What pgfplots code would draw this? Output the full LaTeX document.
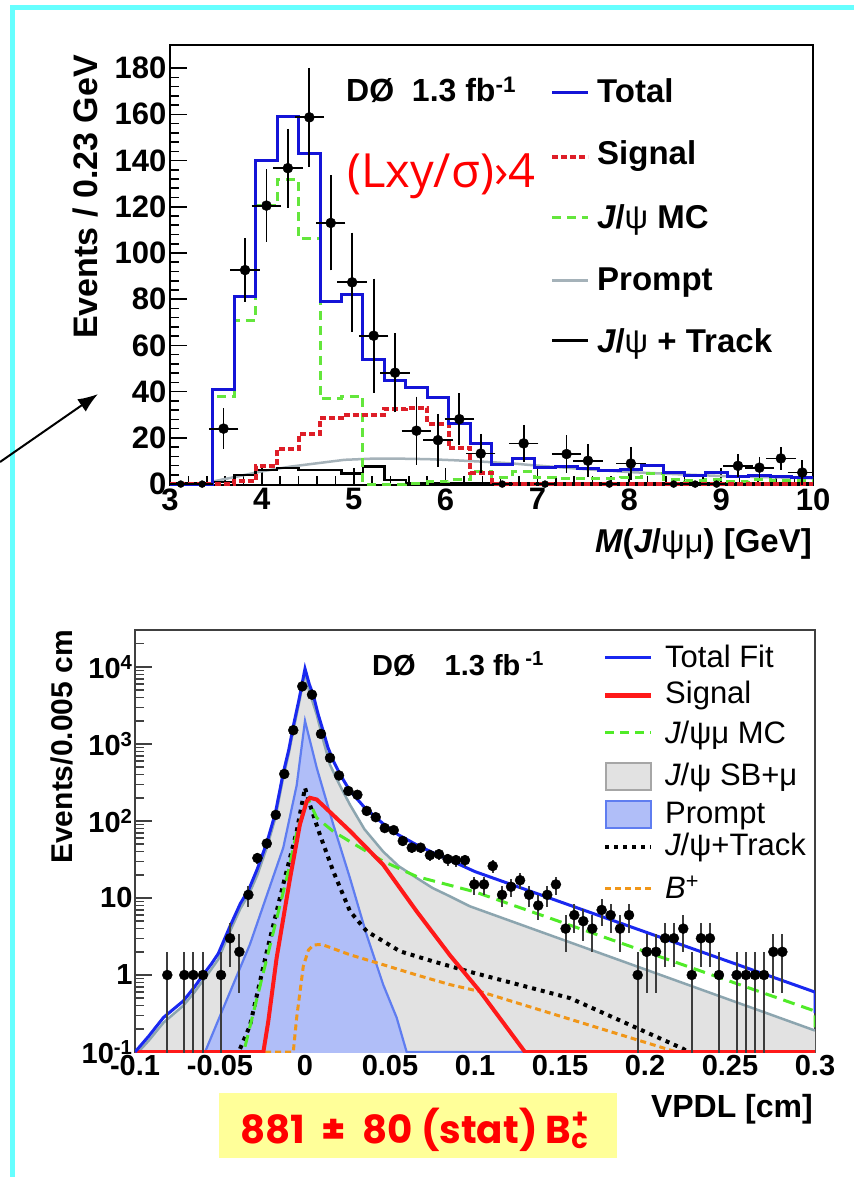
\documentclass[border=0pt]{standalone}
\usepackage{pgfplots}
\pgfplotsset{compat=1.18}
\usepackage{fontspec}
\setmainfont{Liberation Sans}
\newfontfamily\rounda{Open Sans}
\newfontfamily\roundb{Poppins}
\usetikzlibrary{arrows.meta}
\definecolor{cyanb}{RGB}{102,255,255}
\definecolor{tblue}{RGB}{20,20,215}
\definecolor{tred}{RGB}{222,30,40}
\definecolor{tgreen}{RGB}{100,230,60}
\definecolor{tgrey}{RGB}{165,178,185}
\definecolor{bblue}{RGB}{25,40,240}
\definecolor{bred}{RGB}{255,25,25}
\definecolor{bgreen}{RGB}{80,235,40}
\definecolor{sbfill}{RGB}{226,226,226}
\definecolor{sbline}{RGB}{140,165,175}
\definecolor{prfill}{RGB}{176,190,248}
\definecolor{prline}{RGB}{95,125,240}
\definecolor{borange}{RGB}{240,150,25}
\definecolor{ybox}{RGB}{255,255,153}
\definecolor{errgrey}{RGB}{60,60,60}
\newcommand{\fs}[1]{\fontsize{#1}{#1}\selectfont}
\begin{document}
\begin{tikzpicture}[x=1pt,y=-1pt]
\useasboundingbox (0,0) rectangle (854,1177);
\fill[white] (0,0) rectangle (854,1177);
\fill[cyanb] (10,5) rectangle (854,10);
\fill[cyanb] (10,5) rectangle (15,1177);

% ---------------- top axis ----------------
\begin{axis}[
  at={(170pt,-485pt)}, anchor=south west,
  scale only axis, width=643pt, height=440pt,
  xmin=3, xmax=10, ymin=-0.4, ymax=190,
  axis line style={line width=2pt},
  xtick={3,4,...,10}, ytick={0,20,...,180},
  minor x tick num=4, minor y tick num=4,
  tick align=inside, xtick pos=left, ytick pos=left,
  major tick length=17pt, minor tick length=9pt,
  tick style={line width=1.6pt, black},
  tick label style={font=\bfseries\fs{31}},
  /pgf/number format/assume math mode=true,
]
\addplot[tgrey, line width=2.5pt] coordinates {(3.45,1) (3.7,3) (4.0,5.5) (4.3,7.5) (4.6,9) (4.9,10.5) (5.2,11) (5.5,11) (5.8,10.8) (6.1,10.3) (6.4,9.7) (6.7,9) (7.0,8) (7.5,6.5) (8.0,5.2) (8.5,4.3) (9.0,3.5) (9.5,3) (10,2.5)};
\addplot[black, line width=2.5pt, const plot] coordinates {(3.000,0.3) (3.233,0.3) (3.467,1) (3.700,3.9) (3.933,6) (4.167,7) (4.400,6) (4.633,6) (4.867,4.6) (5.100,7.5) (5.333,1.7) (5.567,0.5) (10,0.5)};
\addplot[tgreen, line width=3pt, dash pattern=on 9pt off 6pt, const plot] coordinates {(3.000,0) (3.233,0) (3.467,38) (3.700,71) (3.933,120.5) (4.167,131.6) (4.400,106.3) (4.633,37) (4.867,38) (5.100,0) (5.333,0) (5.567,0.3) (5.800,1) (6.033,2) (6.267,5.5) (6.500,3) (6.733,5.5) (6.967,3) (7.200,2.5) (7.433,2.5) (7.667,2.5) (7.900,3) (8.133,4.5) (8.367,2) (8.600,1.5) (8.833,2) (9.067,1) (9.300,2) (9.533,1.5) (9.767,1.5) (10.000,1.5)};
\addplot[tred, line width=4pt, dash pattern=on 6pt off 3pt, const plot] coordinates {(3.000,0) (3.233,0) (3.467,0) (3.700,1.5) (3.933,8) (4.167,15) (4.400,21.5) (4.633,28.5) (4.867,30) (5.100,30) (5.333,32.5) (5.567,33) (5.800,26) (6.033,15.5) (6.267,5) (6.500,0) (10,0)};
\addplot[tblue, line width=3pt, const plot] coordinates {(3.000,0) (3.233,0) (3.467,41) (3.700,81) (3.933,140) (4.167,159) (4.400,143) (4.633,79) (4.867,82) (5.100,54) (5.333,44.7) (5.567,42) (5.800,37.5) (6.033,26) (6.267,17.5) (6.500,8.5) (6.733,11) (6.967,7.2) (7.200,7.5) (7.433,6.8) (7.667,5.8) (7.900,6.3) (8.133,8.1) (8.367,4.9) (8.600,3.9) (8.833,4.9) (9.067,3.2) (9.300,3.6) (9.533,3.2) (9.767,2.9) (10.000,2.9)};
\addplot[only marks, mark=*, mark size=5pt, black,
  error bars/.cd, x dir=both, x fixed=0.1167, y dir=both, y explicit,
  error bar style={line width=1.8pt}, error mark options={line width=1.8pt, mark size=4pt}]
 coordinates {(3.583,24) +- (0,7) (3.817,92.6) +- (0,12) (4.05,120.5) +- (0,14) (4.283,136.7) +- (0,15.3) (4.517,158.7) +- (0,19.7) (4.75,113) +- (0,18.8) (4.983,87.3) +- (0,19.8) (5.217,64.2) +- (0,23) (5.45,48.2) +- (0,15.4) (5.683,23.1) +- (0,13) (5.917,19) +- (0,9.7) (6.15,28.1) +- (0,9.5) (6.383,13.2) +- (0,6.8) (6.85,17.6) +- (0,6.3) (7.317,13) +- (0,6.3) (7.55,10.1) +- (0,5.4) (8.017,8.9) +- (0,5.5) (9.183,7.9) +- (0,3.2) (9.417,7.1) +- (0,2.9) (9.65,11.1) +- (0,3.2) (9.883,5) +- (0,3.6)};
\addplot[only marks, mark=*, mark size=3.5pt, black,
  error bars/.cd, x dir=both, x fixed=0.1167, error bar style={line width=1.5pt}, error mark=none]
 coordinates {(3.117,0) (3.35,0) (6.617,0) (7.083,0) (7.783,0) (8.483,0) (8.717,0) (8.95,0)};
\end{axis}

% top legend and texts
\node[anchor=base west, inner sep=0, font=\bfseries\fs{32}] at (346,102) {DØ\ \ 1.3 fb\textsuperscript{-1}};
\node[anchor=base west, inner sep=0, text=red] at (347,188) {\resizebox{188pt}{!}{\rounda (Lxy/σ)›4}};
\draw[tblue, line width=3pt] (552,93) -- (588,93);
\draw[tred, line width=4pt, dash pattern=on 6pt off 3pt] (552,157) -- (588,157);
\draw[tgreen, line width=3pt, dash pattern=on 9pt off 6pt] (552,217) -- (588,217);
\draw[tgrey, line width=3pt] (552,280) -- (588,280);
\draw[black, line width=3pt] (552,340) -- (588,340);
\begin{scope}[every node/.style={anchor=base west, inner sep=0, font=\bfseries\fs{33}}]
\node at (597,103) {Total};
\node at (597,165) {Signal};
\node at (597,228) {{\itshape J}/{\mdseries ψ} MC};
\node at (597,290) {Prompt};
\node at (597,352) {{\itshape J}/{\mdseries ψ} + Track};
\end{scope}
\node[anchor=base east, inner sep=0, font=\bfseries\fs{33}] at (812,552) {{\itshape M}({\itshape J}/{\mdseries ψμ}) [GeV]};
\node[rotate=90, anchor=base east, inner sep=0, font=\bfseries\fs{34}] at (97,55) {Events / 0.23 GeV};
\draw[line width=2pt, -{Latex[length=20pt,width=15pt]}] (0,462) -- (98,394);

% ---------------- bottom axis ----------------
\begin{axis}[
  at={(135pt,-1052pt)}, anchor=south west,
  scale only axis, width=680pt, height=422pt,
  xmin=-0.1, xmax=0.3, ymode=log, ymin=0.1, ymax=30200,
  axis line style={line width=1.6pt, black!75},
  xtick={-0.1,-0.05,0,0.05,0.1,0.15,0.2,0.25,0.3},
  xticklabels={-0.1,-0.05,0,0.05,0.1,0.15,0.2,0.25,0.3},
  minor x tick num=4,
  ytick={0.1,1,10,100,1000,10000},
  yticklabels={10\textsuperscript{-1},1,10,10\textsuperscript{2},10\textsuperscript{3},10\textsuperscript{4}},
  minor ytick={0.2,0.3,0.4,0.5,0.6,0.7,0.8,0.9,2,3,4,5,6,7,8,9,20,30,40,50,60,70,80,90,200,300,400,500,600,700,800,900,2000,3000,4000,5000,6000,7000,8000,9000,20000,30000},
  tick align=inside, xtick pos=left, ytick pos=left,
  major tick length=17pt, minor tick length=9pt,
  tick style={line width=1.4pt, black!75},
  tick label style={font=\bfseries\fs{29}},
  yticklabel style={xshift=1pt},
]
% J/psi SB fill
\addplot[draw=none, fill=sbfill] coordinates {(-0.1,0.05) (-0.1,0.09) (-0.092,0.14) (-0.0833,0.24) (-0.0716,0.4) (-0.065,0.6) (-0.06,0.85) (-0.055,1.2) (-0.051,1.6) (-0.0441,3.7) (-0.038,7.3) (-0.033,11.2) (-0.028,20) (-0.0225,45) (-0.0175,108) (-0.0128,370) (-0.0095,760) (-0.0069,1500) (-0.0035,3400) (0,8500) (0.0025,4800) (0.0049,3300) (0.0069,2400) (0.0108,1100) (0.0147,537) (0.0205,290) (0.0265,162) (0.035,78) (0.046,40) (0.055,26) (0.0657,18.2) (0.075,13.5) (0.0853,10.5) (0.097,7.8) (0.3,0.19) (0.3,0.05)} -- cycle;
% prompt fill
\addplot[draw=none, fill=prfill] coordinates {(-0.0588,0.05) (-0.0588,0.1) (-0.052,0.23) (-0.0324,2.5) (-0.0128,45) (-0.0049,290) (0,2000) (0.0069,490) (0.0167,89) (0.0265,18) (0.0363,3.3) (0.046,0.75) (0.0539,0.28) (0.0598,0.1) (0.0598,0.05)} -- cycle;
% SB outline
\addplot[sbline, line width=2.5pt] coordinates {(-0.1,0.09) (-0.092,0.14) (-0.0833,0.24) (-0.0716,0.4) (-0.065,0.6) (-0.06,0.85) (-0.055,1.2) (-0.051,1.6) (-0.0441,3.7) (-0.038,7.3) (-0.033,11.2) (-0.028,20) (-0.0225,45) (-0.0175,108) (-0.0128,370) (-0.0095,760) (-0.0069,1500) (-0.0035,3400) (0,8500) (0.0025,4800) (0.0049,3300) (0.0069,2400) (0.0108,1100) (0.0147,537) (0.0205,290) (0.0265,162) (0.035,78) (0.046,40) (0.055,26) (0.0657,18.2) (0.075,13.5) (0.0853,10.5) (0.097,7.8) (0.3,0.19)};
% prompt outline
\addplot[prline, line width=2.2pt] coordinates {(-0.0588,0.1) (-0.052,0.23) (-0.0324,2.5) (-0.0128,45) (-0.0049,290) (0,2000) (0.0069,490) (0.0167,89) (0.0265,18) (0.0363,3.3) (0.046,0.75) (0.0539,0.28) (0.0598,0.1) (0.13,0.1)};
% B+
\addplot[borange, line width=3pt, dash pattern=on 6pt off 4pt] coordinates {(-0.1,0.1) (-0.0069,0.1) (-0.0049,0.28) (-0.001,1.3) (0.002,2.1) (0.0049,2.45) (0.0098,2.5) (0.0265,1.83) (0.046,1.36) (0.0657,1.0) (0.0853,0.75) (0.103,0.61) (0.2186,0.1) (0.3,0.1)};
% J/psi + track
\addplot[black, line width=4pt, dash pattern=on 4pt off 5pt] coordinates {(-0.0382,0.11) (-0.0324,0.22) (-0.0225,2) (-0.0128,15) (-0.0049,73) (0,270) (0.0029,163) (0.0088,66) (0.0167,22) (0.0265,6.7) (0.0363,3.7) (0.0559,2.03) (0.0755,1.5) (0.097,1.1) (0.156,0.5) (0.2225,0.11) (0.235,0.07)};
% J/psi mu MC
\addplot[bgreen, line width=3pt, dash pattern=on 12pt off 7pt] coordinates {(-0.0353,0.117) (-0.0108,18) (-0.0049,70) (0.0,160) (0.002,190) (0.0069,110) (0.0167,73) (0.0265,54) (0.046,30) (0.0657,19) (0.1,12) (0.3,0.34) (0.3,0.17)};
% signal
\addplot[bred, line width=4pt] coordinates {(-0.1,0.1) (-0.0245,0.1) (-0.0216,0.25) (-0.0167,1.66) (-0.0088,18) (-0.003,90) (0.001,180) (0.0029,200) (0.0069,190) (0.0265,74) (0.046,27) (0.0657,6.7) (0.0853,1.8) (0.103,0.61) (0.1294,0.1) (0.3,0.1)};
% total fit
\addplot[bblue, line width=3pt] coordinates {(-0.1,0.1) (-0.092,0.16) (-0.0833,0.28) (-0.0716,0.46) (-0.065,0.7) (-0.06,1.0) (-0.055,1.4) (-0.051,1.9) (-0.0441,4.3) (-0.038,8.5) (-0.033,13) (-0.028,24) (-0.0225,52) (-0.0175,125) (-0.0128,420) (-0.0095,850) (-0.0069,1700) (-0.0035,3800) (0,9500) (0.0025,6000) (0.0049,4300) (0.0078,2400) (0.0108,1450) (0.0135,900) (0.0167,600) (0.021,390) (0.0265,245) (0.035,150) (0.046,92) (0.055,66) (0.0657,49) (0.075,39) (0.0853,31) (0.1,22) (0.3,0.6) (0.3,0.32)};
% data
\addplot[only marks, mark=*, mark size=5pt, black,
  error bars/.cd, y dir=both, y explicit, error mark=none,
  error bar style={line width=2pt, errgrey}]
 coordinates {
 (-0.081,1) += (0,1) -= (0,0.99)
 (-0.071,1) += (0,1) -= (0,0.99)
 (-0.0657,1) += (0,1) -= (0,0.99)
 (-0.060,1) += (0,1) -= (0,0.99)
 (-0.0494,1) += (0,1) -= (0,0.99)
 (-0.0441,3) +- (0,1.73)
 (-0.0386,2) +- (0,1.41)
 (-0.0333,11) +- (0,3.3)
 (-0.028,33) +- (0,5.7)
 (-0.0225,51) +- (0,7.1)
 (-0.0172,120) +- (0,11)
 (-0.0122,408) +- (0,20)
 (-0.0069,1510) +- (0,39)
 (-0.0016,5600) +- (0,75)
 (0.0041,4370) +- (0,66)
 (0.0094,1350) +- (0,37)
 (0.0147,660) +- (0,26)
 (0.020,390) +- (0,20)
 (0.0255,245) +- (0,16)
 (0.0308,219) +- (0,15)
 (0.0363,135) +- (0,12)
 (0.0416,112) +- (0,11)
 (0.0469,81) +- (0,9)
 (0.0522,76) +- (0,8.7)
 (0.0575,55) +- (0,7.4)
 (0.0628,45) +- (0,6.7)
 (0.068,45) +- (0,6.7)
 (0.0735,36) +- (0,6)
 (0.0788,37) +- (0,6.1)
 (0.0839,32) +- (0,5.7)
 (0.0888,31) +- (0,5.6)
 (0.0941,31) +- (0,5.6)
 (0.0996,15) +- (0,3.9)
 (0.1053,15) +- (0,3.9)
 (0.1104,26) +- (0,5.1)
 (0.1159,11) +- (0,3.3)
 (0.1212,14) +- (0,3.7)
 (0.1265,17) +- (0,4.1)
 (0.1318,11) +- (0,3.3)
 (0.1372,8) +- (0,2.8)
 (0.1425,11) +- (0,3.3)
 (0.1476,15) +- (0,3.9)
 (0.1533,4) +- (0,2)
 (0.1584,6) +- (0,2.45)
 (0.1637,5) +- (0,2.24)
 (0.169,4) +- (0,2)
 (0.1745,7) +- (0,2.65)
 (0.1798,6) +- (0,2.45)
 (0.1853,4) +- (0,2)
 (0.1906,6) +- (0,2.45)
 (0.1957,1) += (0,1) -= (0,0.99)
 (0.201,2) +- (0,1.41)
 (0.2065,2) +- (0,1.41)
 (0.2118,3) +- (0,1.73)
 (0.217,3) +- (0,1.73)
 (0.2225,4) +- (0,2)
 (0.2275,1) += (0,1) -= (0,0.99)
 (0.2329,3) +- (0,1.73)
 (0.2382,3) +- (0,1.73)
 (0.2435,1) += (0,1) -= (0,0.99)
 (0.2539,1) += (0,1) -= (0,0.99)
 (0.2594,1) += (0,1) -= (0,0.99)
 (0.2647,1) += (0,1) -= (0,0.99)
 (0.27,1) += (0,1) -= (0,0.99)
 (0.2755,2) +- (0,1.41)
 (0.2808,2) +- (0,1.41)
 };
\end{axis}

% bottom legend and texts
\node[anchor=base west, inner sep=0, font=\bfseries\fs{29}] at (372,675) {DØ\quad 1.3 fb\,\textsuperscript{-1}};
\draw[bblue, line width=3pt] (605,657) -- (651,657);
\draw[bred, line width=5pt] (605,695) -- (651,695);
\draw[bgreen, line width=3pt, dash pattern=on 9pt off 6pt] (605,732) -- (651,732);
\filldraw[fill=sbfill, draw=black!35, line width=2pt] (606,763) rectangle (651,790);
\filldraw[fill=prfill, draw=prline, line width=2pt] (606,801) rectangle (651,828);
\draw[black, line width=3.5pt, dash pattern=on 4pt off 5pt] (605,847) -- (651,847);
\draw[borange, line width=3pt, dash pattern=on 6pt off 4pt] (605,888) -- (651,888);
\begin{scope}[every node/.style={anchor=base west, inner sep=0, font=\fs{31}}]
\node at (665,667) {Total Fit};
\node at (665,703) {Signal};
\node at (665,743) {{\itshape J}/ψμ MC};
\node at (665,785) {{\itshape J}/ψ SB+μ};
\node at (665,823) {Prompt};
\node at (665,855) {{\itshape J}/ψ+Track};
\node at (665,898) {{\itshape B}\textsuperscript{+}};
\end{scope}
\node[anchor=base east, inner sep=0, font=\bfseries\fs{32}] at (813,1117) {VPDL [cm]};
\node[rotate=90, anchor=base east, inner sep=0, font=\bfseries\fs{30}] at (72,630) {Events/0.005 cm};
\fill[ybox] (219,1093) rectangle (617,1158);
\node[anchor=base west, inner sep=0, text=red] at (240,1143) {\resizebox{350pt}{!}{\roundb\bfseries 881\ \ ±\ \ 80 (stat) B\rlap{\textsubscript{c}}\textsuperscript{+}}};
\end{tikzpicture}
\end{document}
